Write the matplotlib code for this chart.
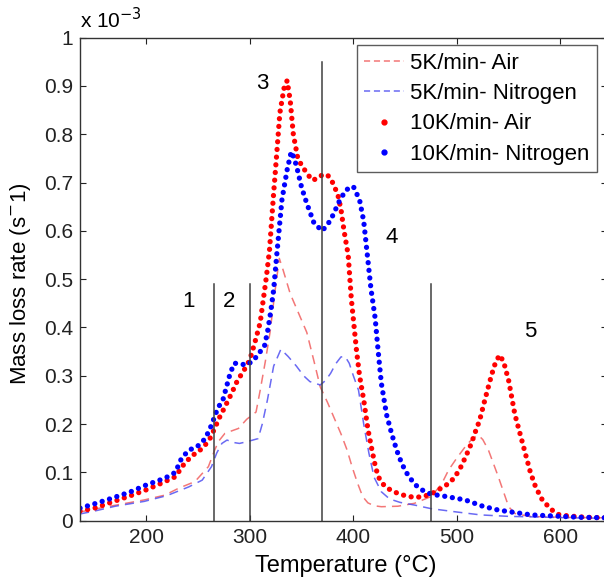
import numpy as np
import matplotlib.pyplot as plt
from matplotlib.lines import Line2D

plt.rcParams['font.family'] = ['Liberation Sans', 'DejaVu Sans']

# 5 K/min, air (dashed red) - values in 1e-3 s^-1
t_air5 = [136, 150, 170, 198, 218, 231, 247, 260, 266, 270, 276, 289, 297, 306,
          310, 315, 319.5, 324, 328.5, 332, 339, 347, 355, 362, 368, 375, 381, 388,
          394, 399, 404, 409, 414, 420, 427, 443, 459, 475, 485, 492, 500, 508,
          515, 520.7, 525, 530.5, 535, 540, 545, 550, 556, 570, 600, 645]
y_air5 = [0.018, 0.024, 0.032, 0.043, 0.053, 0.067, 0.081, 0.112, 0.146, 0.165, 0.181, 0.191, 0.21, 0.225,
          0.27, 0.33, 0.39, 0.47, 0.543, 0.52, 0.47, 0.43, 0.39, 0.33, 0.277, 0.245, 0.215, 0.18,
          0.146, 0.11, 0.078, 0.05, 0.037, 0.031, 0.029, 0.03, 0.036, 0.05, 0.075, 0.105, 0.13, 0.153,
          0.17, 0.177, 0.168, 0.146, 0.12, 0.091, 0.06, 0.029, 0.015, 0.009, 0.007, 0.006]

# 5 K/min, nitrogen (dashed blue)
t_n25 = [136, 150, 170, 198, 220, 241, 254, 263, 268, 273, 278, 284, 290, 296,
         303, 308, 312, 317, 323, 330, 337, 345, 352, 358, 368, 373, 378, 383,
         388, 392, 396, 400, 405, 410, 415, 420, 427, 435, 445, 460, 475, 500,
         523, 550, 572, 610, 645]
y_n25 = [0.014, 0.02, 0.03, 0.04, 0.052, 0.07, 0.084, 0.112, 0.14, 0.16, 0.167, 0.162, 0.16, 0.163,
         0.167, 0.17, 0.2, 0.25, 0.32, 0.355, 0.34, 0.32, 0.3, 0.288, 0.281, 0.29, 0.305, 0.325,
         0.339, 0.34, 0.326, 0.3, 0.27, 0.2, 0.14, 0.09, 0.06, 0.045, 0.038, 0.032, 0.025, 0.018,
         0.012, 0.009, 0.008, 0.006, 0.005]

# 10 K/min, air (red dots)
t_air10 = [136, 150, 166, 185, 200, 215, 228, 237, 245, 250, 257, 262, 266, 271, 276,
           282, 288, 294, 300, 305, 310, 316, 319, 323, 326, 329, 333, 336, 339, 342,
           346, 350, 355, 360, 365, 370, 375, 380, 385, 388, 391, 395, 398, 403, 406,
           410, 414, 418, 421, 424, 430, 437, 446, 459, 467, 475, 483, 492, 498, 504,
           509, 514, 518, 522, 527, 532, 536, 541, 545, 550, 556, 561, 566, 571, 576,
           582, 590, 598, 607, 625, 645]
y_air10 = [0.02, 0.026, 0.038, 0.052, 0.064, 0.078, 0.091, 0.119, 0.136, 0.142, 0.157, 0.172, 0.191, 0.215, 0.236,
           0.262, 0.29, 0.31, 0.333, 0.37, 0.41, 0.505, 0.56, 0.678, 0.76, 0.844, 0.895, 0.911, 0.87, 0.8,
           0.754, 0.735, 0.72, 0.705, 0.708, 0.716, 0.716, 0.7, 0.675, 0.645, 0.6, 0.55, 0.46, 0.353, 0.3,
           0.25, 0.19, 0.146, 0.115, 0.091, 0.072, 0.062, 0.054, 0.048, 0.05, 0.055, 0.065, 0.077, 0.09, 0.112,
           0.135, 0.16, 0.185, 0.208, 0.25, 0.29, 0.32, 0.343, 0.33, 0.29, 0.22, 0.18, 0.14, 0.1, 0.07,
           0.045, 0.025, 0.013, 0.01, 0.007, 0.006]

# 10 K/min, nitrogen (blue dots)
t_n210 = [136, 150, 166, 185, 200, 218, 228, 234, 241, 249, 257, 263, 269, 274, 281,
          285, 290, 297, 304, 310, 314, 317, 320, 323, 326, 331, 336, 340, 343, 346,
          350, 355, 362, 370, 378, 387, 393, 400, 406, 410, 413, 417, 421, 424, 427,
          432, 437, 442, 447, 453, 460, 467, 475, 490, 508, 525, 540, 572, 620, 645]
y_n210 = [0.026, 0.035, 0.046, 0.06, 0.074, 0.088, 0.1, 0.129, 0.146, 0.153, 0.17, 0.198, 0.233, 0.25, 0.305,
          0.326, 0.325, 0.322, 0.333, 0.35, 0.36, 0.39, 0.43, 0.478, 0.55, 0.664, 0.726, 0.764, 0.75, 0.726,
          0.69, 0.657, 0.616, 0.6, 0.622, 0.664, 0.685, 0.692, 0.664, 0.62, 0.56, 0.48, 0.42, 0.35, 0.285,
          0.22, 0.18, 0.145, 0.117, 0.093, 0.074, 0.063, 0.055, 0.05, 0.043, 0.03, 0.022, 0.012, 0.007, 0.006]

# stage boundaries and labels
v_x = [265, 300, 370, 475]
v_top = [0.49, 0.49, 0.95, 0.49]
lab_txt = ['1', '2', '3', '4', '5']
lab_x = [241, 280, 312, 437, 571]
lab_y = [0.453, 0.453, 0.905, 0.587, 0.391]

fig = plt.figure(figsize=(6.04, 5.82), dpi=100)
ax = fig.add_axes([0.1325, 0.1053, 0.8725, 0.830])

ax.plot(t_air5, y_air5, '--', color='#f05555', lw=1.1, alpha=0.8, dashes=(6, 4))
ax.plot(t_n25, y_n25, '--', color='#4545f0', lw=1.1, alpha=0.8, dashes=(6, 4))
dot = dict(lw=3.8, linestyle=(0, (0.01, 1.45)), dash_capstyle='round', solid_capstyle='round')
ax.plot(t_air10, y_air10, color='red', **dot)
ax.plot(t_n210, y_n210, color='blue', **dot)

for xv, top in zip(v_x, v_top):
    ax.plot([xv, xv], [0, top], color='#404040', lw=1.1)
for s, x, y in zip(lab_txt, lab_x, lab_y):
    ax.text(x, y, s, fontsize=16, ha='center', va='center')

ax.set_xlim(136, 645)
ax.set_ylim(0, 1)
ax.set_xticks([200, 300, 400, 500, 600])
ax.set_yticks(np.arange(0, 1.01, 0.1))
ax.set_yticklabels(['0', '0.1', '0.2', '0.3', '0.4', '0.5', '0.6', '0.7', '0.8', '0.9', '1'])
ax.tick_params(direction='in', length=4, width=0.8, top=True, right=True,
               labelsize=15, colors='#222222', pad=5)
for sp in ax.spines.values():
    sp.set_color('#333333')
    sp.set_linewidth(1.0)

ax.text(0.0, 1.012, r'x 10$^{-3}$', transform=ax.transAxes, fontsize=15, ha='left', va='bottom')
ax.set_xlabel('Temperature (°C)', fontsize=17)
ax.set_ylabel(r'Mass loss rate (s$^{-}$1)', fontsize=16)
ax.xaxis.set_label_coords(0.505, -0.072)
ax.yaxis.set_label_coords(-0.09, 0.49)

handles = [
    Line2D([], [], color='#f05555', lw=1.1, alpha=0.8, dashes=(4, 2.5)),
    Line2D([], [], color='#4545f0', lw=1.1, alpha=0.8, dashes=(4, 2.5)),
    Line2D([], [], color='red', marker='.', ms=7, lw=0),
    Line2D([], [], color='blue', marker='.', ms=7, lw=0),
]
labels = ['5K/min- Air', '5K/min- Nitrogen', '10K/min- Air', '10K/min- Nitrogen']
leg = ax.legend(handles, labels, loc='upper right', bbox_to_anchor=(0.981, 0.985),
                borderaxespad=0, fontsize=16, frameon=True, fancybox=False,
                edgecolor='#333333', labelspacing=0.42, handlelength=1.8,
                handletextpad=0.25, borderpad=0.35)
leg.get_frame().set_linewidth(1.0)

fig.savefig('out.png', dpi=100)
